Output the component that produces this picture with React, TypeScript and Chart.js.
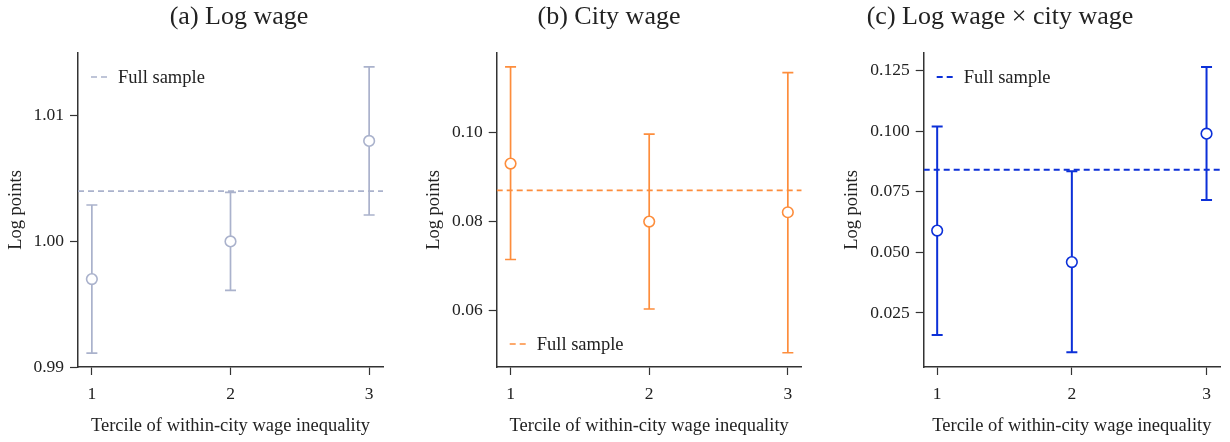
import React, { useEffect, useRef } from "react";
import { Chart, registerables } from "chart.js";

Chart.register(...registerables);

const FONT = "'Liberation Serif', 'Times New Roman', serif";
const TEXT = "#222222";
const AXIS = "#333333";

// Shared x categories
const terciles = [1, 2, 3];
const xTicks = [1, 2, 3];
const xRange = [0.9, 3.1];
const xLabel = "Tercile of within-city wage inequality";
const yLabel = "Log points";
const legendLabel = "Full sample";

// (a) Log wage
const logWageMeans = [0.997, 1.0, 1.008];
const logWageLow = [0.9911, 0.9961, 1.0021];
const logWageHigh = [1.0029, 1.0039, 1.0139];
const logWageFull = 1.004;
const logWageTicks = [0.99, 1.0, 1.01];
const logWageRange = [0.99, 1.015];

// (b) City wage
const cityWageMeans = [0.093, 0.08, 0.0821];
const cityWageLow = [0.0715, 0.0604, 0.0506];
const cityWageHigh = [0.1147, 0.0996, 0.1134];
const cityWageFull = 0.087;
const cityWageTicks = [0.06, 0.08, 0.1];
const cityWageRange = [0.0474, 0.1178];

// (c) Log wage x city wage
const interMeans = [0.059, 0.046, 0.099];
const interLow = [0.0159, 0.0088, 0.0716];
const interHigh = [0.102, 0.0835, 0.1265];
const interFull = 0.0841;
const interTicks = [0.025, 0.05, 0.075, 0.1, 0.125];
const interRange = [0.0027, 0.1323];

const titles = ["(a) Log wage", "(b) City wage", "(c) Log wage \u00d7 city wage"];
const titleCenters = [239, 609, 1000];

type PanelCfg = {
  left: number;
  yAxisWidth: number;
  rightPad: number;
  yTitlePad: number;
  legendPos: "upper" | "lower";
  decimals: number;
  color: string;
  lineWidth: number;
  means: number[];
  low: number[];
  high: number[];
  full: number;
  yTicks: number[];
  yRange: number[];
};

const panels: PanelCfg[] = [
  {
    left: 0, yAxisWidth: 78, rightPad: 27, yTitlePad: 5, legendPos: "upper", decimals: 2,
    color: "#aab2cc", lineWidth: 1.7,
    means: logWageMeans, low: logWageLow, high: logWageHigh, full: logWageFull,
    yTicks: logWageTicks, yRange: logWageRange,
  },
  {
    left: 410, yAxisWidth: 86.7, rightPad: 18.3, yTitlePad: 13.5, legendPos: "lower", decimals: 2,
    color: "#fd8d3c", lineWidth: 1.7,
    means: cityWageMeans, low: cityWageLow, high: cityWageHigh, full: cityWageFull,
    yTicks: cityWageTicks, yRange: cityWageRange,
  },
  {
    left: 820, yAxisWidth: 103.7, rightPad: 10, yTitlePad: 21, legendPos: "upper", decimals: 3,
    color: "#0c30d8", lineWidth: 2,
    means: interMeans, low: interLow, high: interHigh, full: interFull,
    yTicks: interTicks, yRange: interRange,
  },
];

function Panel({ cfg }: { cfg: PanelCfg }) {
  const ref = useRef<HTMLCanvasElement | null>(null);

  useEffect(() => {
    if (!ref.current) return;
    const cap = 5.5;
    const errorBars = {
      id: "errorBars",
      beforeDatasetsDraw(chart: any) {
        const { ctx, scales } = chart;
        const x = scales.x;
        const y = scales.y;
        ctx.save();
        ctx.strokeStyle = cfg.color;
        ctx.lineWidth = cfg.lineWidth;
        terciles.forEach((t, i) => {
          const px = x.getPixelForValue(t);
          const lo = y.getPixelForValue(cfg.low[i]);
          const hi = y.getPixelForValue(cfg.high[i]);
          ctx.beginPath();
          ctx.moveTo(px, lo);
          ctx.lineTo(px, hi);
          ctx.moveTo(px - cap, lo);
          ctx.lineTo(px + cap, lo);
          ctx.moveTo(px - cap, hi);
          ctx.lineTo(px + cap, hi);
          ctx.stroke();
        });
        ctx.restore();
      },
    };
    const insetLegend = {
      id: "insetLegend",
      afterDraw(chart: any) {
        const { ctx, chartArea } = chart;
        const ds = chart.data.datasets[1];
        const yy = cfg.legendPos === "upper" ? chartArea.top + 24 : chartArea.bottom - 23;
        const x0 = chartArea.left + 13;
        ctx.save();
        ctx.strokeStyle = cfg.color;
        ctx.lineWidth = cfg.lineWidth;
        ctx.setLineDash([6, 4]);
        ctx.beginPath();
        ctx.moveTo(x0, yy);
        ctx.lineTo(x0 + 18, yy);
        ctx.stroke();
        ctx.setLineDash([]);
        ctx.fillStyle = TEXT;
        ctx.font = `18.5px ${FONT}`;
        ctx.textBaseline = "middle";
        ctx.textAlign = "left";
        ctx.fillText(ds.label, chartArea.left + 40, yy + 1);
        ctx.restore();
      },
    };

    const chart = new Chart(ref.current, {
      type: "scatter",
      data: {
        datasets: [
          {
            type: "scatter",
            label: "Estimate",
            data: terciles.map((t, i) => ({ x: t, y: cfg.means[i] })),
            pointRadius: 5.3,
            pointHoverRadius: 5.3,
            pointBackgroundColor: "#ffffff",
            pointBorderColor: cfg.color,
            pointBorderWidth: 1.6,
            order: 0,
          } as any,
          {
            type: "line",
            label: legendLabel,
            data: [
              { x: xRange[0], y: cfg.full },
              { x: xRange[1], y: cfg.full },
            ],
            borderColor: cfg.color,
            borderWidth: cfg.lineWidth,
            borderDash: [6, 4],
            pointRadius: 0,
            fill: false,
            order: 1,
          } as any,
        ],
      },
      options: {
        responsive: false,
        maintainAspectRatio: false,
        devicePixelRatio: 1,
        animation: false,
        events: [],
        layout: { padding: { left: 0, top: 53, right: cfg.rightPad, bottom: 0 } },
        plugins: {
          legend: { display: false },
          tooltip: { enabled: false },
          title: { display: false },
        },
        scales: {
          x: {
            type: "linear",
            min: xRange[0],
            max: xRange[1],
            afterBuildTicks: (s: any) => {
              s.ticks = xTicks.map((v) => ({ value: v }));
            },
            afterFit: (s: any) => {
              s.height = 75;
            },
            ticks: {
              font: { family: FONT, size: 17.5 },
              color: TEXT,
              padding: 9,
              callback: (v: any) => String(v),
            },
            grid: {
              drawOnChartArea: false,
              drawTicks: true,
              tickLength: 8,
              tickColor: AXIS,
              tickWidth: 1.2,
            },
            border: { display: true, color: AXIS, width: 1.5 },
            title: {
              display: true,
              text: xLabel,
              color: TEXT,
              font: { family: FONT, size: 18.5 },
              padding: { top: 0, bottom: 5 },
            },
          },
          y: {
            type: "linear",
            min: cfg.yRange[0],
            max: cfg.yRange[1],
            afterBuildTicks: (s: any) => {
              s.ticks = cfg.yTicks.map((v) => ({ value: v }));
            },
            afterFit: (s: any) => {
              s.width = cfg.yAxisWidth;
            },
            ticks: {
              font: { family: FONT, size: 17.5 },
              color: TEXT,
              padding: 6,
              callback: (v: any) => Number(v).toFixed(cfg.decimals),
            },
            grid: {
              drawOnChartArea: false,
              drawTicks: true,
              tickLength: 8,
              tickColor: AXIS,
              tickWidth: 1.2,
            },
            border: { display: true, color: AXIS, width: 1.5 },
            title: {
              display: true,
              text: yLabel,
              color: TEXT,
              font: { family: FONT, size: 18.5 },
              padding: { top: cfg.yTitlePad, bottom: 0 },
            },
          },
        },
      } as any,
      plugins: [errorBars, insetLegend],
    });
    return () => chart.destroy();
  }, []);

  return (
    <canvas
      ref={ref}
      width={410}
      height={442}
      style={{ position: "absolute", left: cfg.left, top: 0, width: 410, height: 442 }}
    />
  );
}

export default function App() {
  return (
    <div
      style={{
        position: "absolute",
        left: 0,
        top: 0,
        width: 1230,
        height: 442,
        background: "#ffffff",
        overflow: "hidden",
      }}
    >
      {panels.map((p, i) => (
        <Panel key={i} cfg={p} />
      ))}
      {titles.map((t, i) => (
        <div
          key={"t" + i}
          style={{
            position: "absolute",
            left: titleCenters[i],
            top: 1,
            transform: "translateX(-50%)",
            whiteSpace: "nowrap",
            fontFamily: FONT,
            fontSize: 26,
            lineHeight: "30px",
            color: TEXT,
          }}
        >
          {t}
        </div>
      ))}
    </div>
  );
}
